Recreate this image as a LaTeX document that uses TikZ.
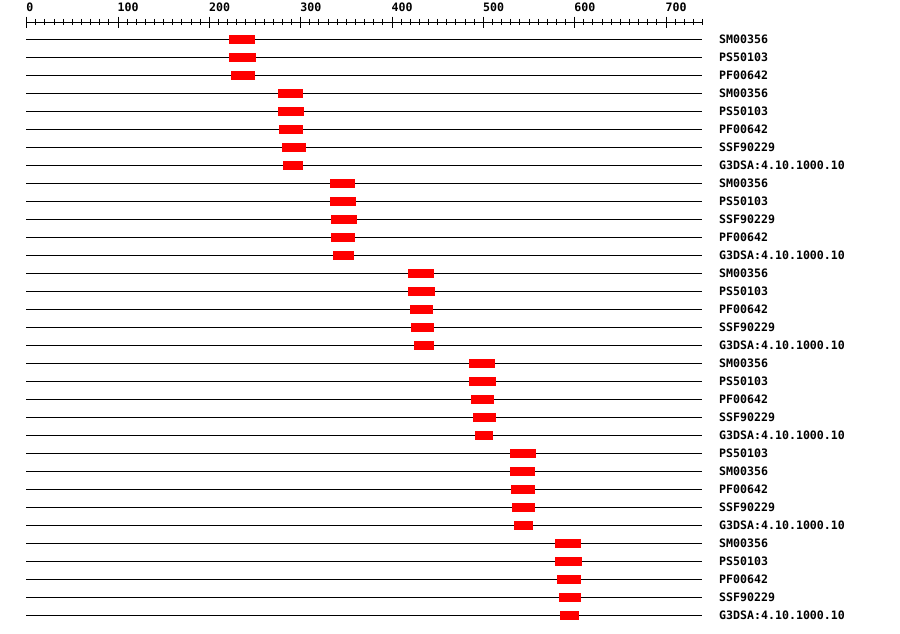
\documentclass[tikz,border=0pt]{standalone}
\usepackage{fontspec}
\setmonofont{DejaVu Sans Mono}
\begin{document}
\begin{tikzpicture}[x=1pt,y=-1pt,
  lbl/.style={font=\ttfamily\bfseries\fontsize{11.6}{12}\selectfont, anchor=west, inner sep=0pt, text=black},
  axlbl/.style={font=\ttfamily\bfseries\fontsize{11.6}{12}\selectfont, anchor=base west, inner sep=0pt, text=black},
  dom/.style={fill=red, draw=none, inner sep=0pt, minimum height=8.8pt, anchor=west},
  track/.style={line width=1pt, black},
  tickline/.style={line width=1pt, black}]
\useasboundingbox (0,0) rectangle (900,634);
% ruler
\coordinate (rs) at (26.2,22.7);
\coordinate (re) at (702,22.7);
\draw[tickline] (rs) -- (re);
\foreach \i in {0,...,74}{
  \pgfmathsetmacro\xx{26.7+9.133*\i}
  \pgfmathtruncatemacro\m{mod(\i,10)}
  \ifnum\m=0
    \draw[tickline] (\xx,16.7) -- (\xx,28.3);
  \else
    \draw[tickline] (\xx,19) -- (\xx,25.3);
  \fi
}
\foreach \k in {0,...,7}{
  \pgfmathsetmacro\xx{26.2+91.33*\k}
  \pgfmathtruncatemacro\v{100*\k}
  \node[axlbl] (ax\k) at (\xx,12) {\v};
}
% tracks
\foreach[count=\i] \a/\b/\t in {
  229/255/SM00356, 229/256/PS50103, 231/255/PF00642,
  278/303/SM00356, 278/304/PS50103, 279/303/PF00642, 282/306/SSF90229, 283/303/G3DSA:4.10.1000.10,
  330/355/SM00356, 330/356/PS50103, 331/357/SSF90229, 331/355/PF00642, 333/354/G3DSA:4.10.1000.10,
  408/434/SM00356, 408/435/PS50103, 410/433/PF00642, 411/434/SSF90229, 414/434/G3DSA:4.10.1000.10,
  469/495/SM00356, 469/496/PS50103, 471/494/PF00642, 473/496/SSF90229, 475/493/G3DSA:4.10.1000.10,
  510/536/PS50103, 510/535/SM00356, 511/535/PF00642, 512/535/SSF90229, 514/533/G3DSA:4.10.1000.10,
  555/581/SM00356, 555/582/PS50103, 557/581/PF00642, 559/581/SSF90229, 560/579/G3DSA:4.10.1000.10}{
  \pgfmathsetmacro\yy{39.3+18*(\i-1)}
  \pgfmathsetmacro\ww{\b-\a}
  \coordinate (s\i) at (26,\yy);
  \coordinate (e\i) at (702,\yy);
  \draw[track] (s\i) -- (e\i);
  \node[dom, minimum width=\ww pt] (d\i) at (\a,\yy) {};
  \node[lbl] (l\i) at (719,\yy) {\t};
}
\end{tikzpicture}
\end{document}
